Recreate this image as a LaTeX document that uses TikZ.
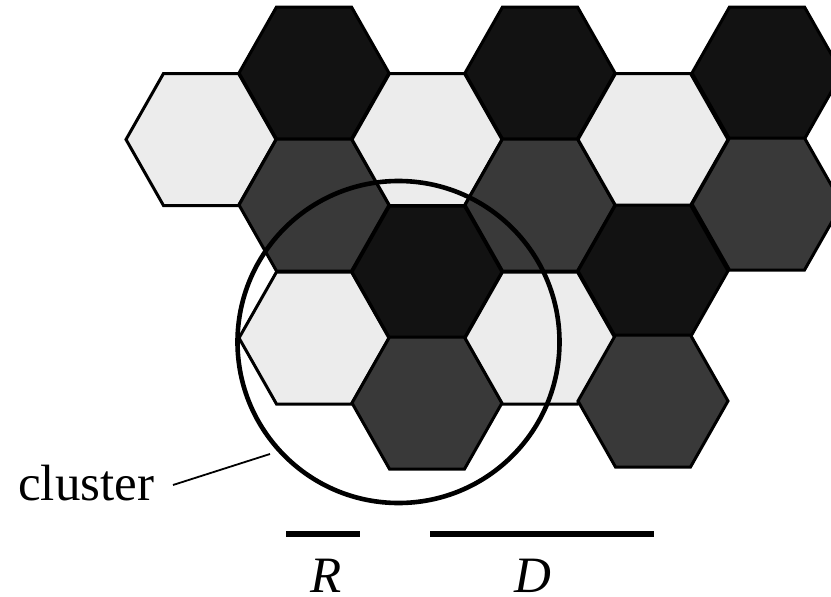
\documentclass[tikz,border=0pt]{standalone}
\usepackage{fontspec}
\setmainfont{Liberation Serif}
\definecolor{hexlight}{HTML}{ECECEC}
\definecolor{hexdark}{HTML}{393939}
\definecolor{hexblack}{HTML}{121212}
\newcommand{\hexcell}[3]{%
  \path[hexcellstyle,fill=#3] (#1,-#2) ++(-75,0) -- ++(37.5,66) -- ++(75,0) -- ++(37.5,-66) -- ++(-37.5,-66) -- ++(-75,0) -- cycle;}
\begin{document}
\begin{tikzpicture}[x=1pt,y=1pt,
  hexcellstyle/.style={draw=black,line width=3pt,line join=miter},
  bigring/.style={draw=black,line width=4.6pt},
  barline/.style={draw=black,line width=6pt},
  txt/.style={inner sep=0pt,font=\fontsize{51}{60}\selectfont}]
\useasboundingbox (0,0) rectangle (831,-597);
% column 0
\hexcell{201}{139.5}{hexlight}
% column 1
\hexcell{314}{73}{hexblack}
\hexcell{314}{205}{hexdark}
\hexcell{314}{338}{hexlight}
% column 2
\hexcell{427}{139.5}{hexlight}
\hexcell{427}{272}{hexblack}
\hexcell{427}{403}{hexdark}
% column 3
\hexcell{540}{73}{hexblack}
\hexcell{540}{205}{hexdark}
\hexcell{540}{338}{hexlight}
% column 4
\hexcell{653}{139.5}{hexlight}
\hexcell{653}{271}{hexblack}
\hexcell{653}{401}{hexdark}
% column 5
\hexcell{767}{73}{hexblack}
\hexcell{767}{204}{hexdark}
% cluster circle
\node[bigring,circle,minimum size=322pt,inner sep=0pt] (ring) at (398.5,-342) {};
% cluster label
\node[txt,anchor=base west] (lbl) at (18,-500) {cluster};
\coordinate (ls) at (173,-485);
\coordinate (le) at (270,-454);
\draw[line width=1.8pt] (ls) -- (le);
% R and D bars
\coordinate (r1) at (286,-534);
\coordinate (r2) at (360,-534);
\coordinate (d1) at (430,-534);
\coordinate (d2) at (654,-534);
\draw[barline] (r1) -- (r2);
\draw[barline] (d1) -- (d2);
\node[txt,anchor=base] (rlab) at (326,-592) {\itshape R};
\node[txt,anchor=base] (dlab) at (533,-592) {\itshape D};
\end{tikzpicture}
\end{document}
